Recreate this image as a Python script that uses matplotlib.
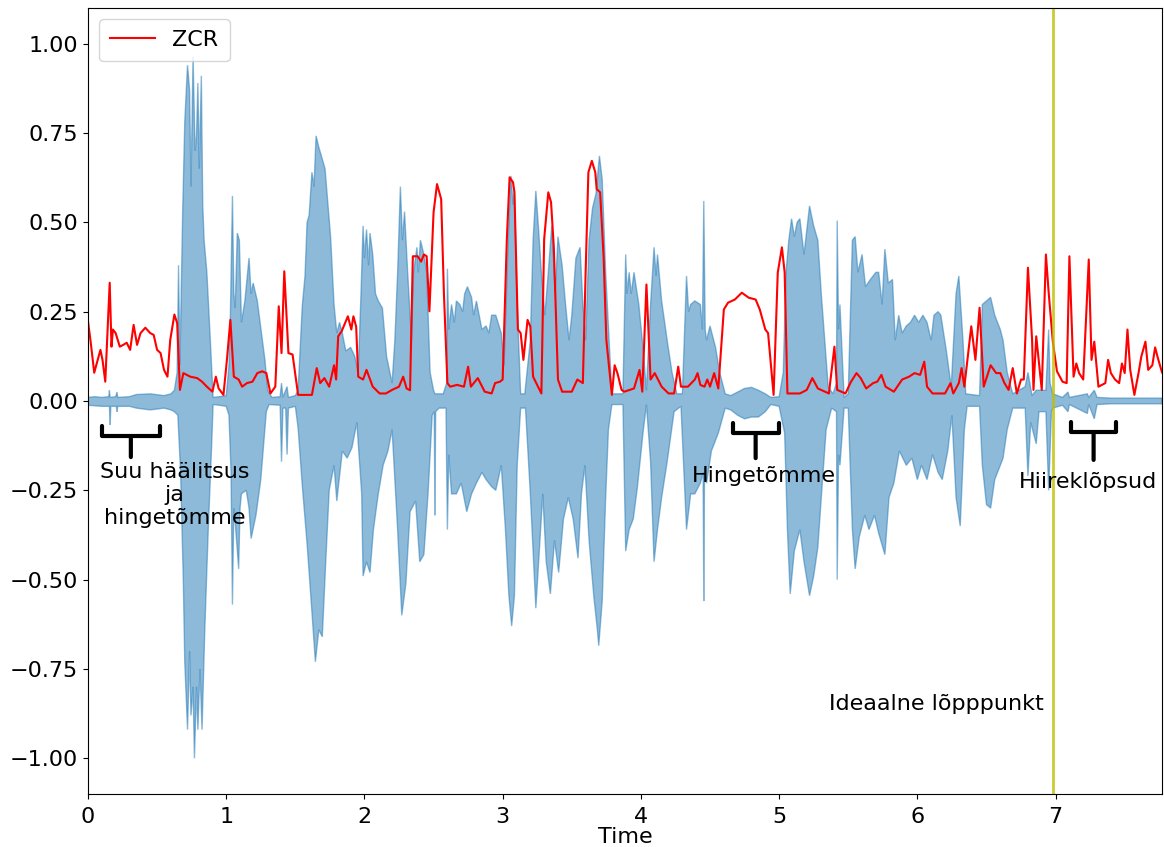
import numpy as np
import matplotlib
matplotlib.use("Agg")
import matplotlib.pyplot as plt
from matplotlib.ticker import FuncFormatter

# waveform envelope (upper), time in seconds
wave_hi_t = [0.0, 0.05, 0.1, 0.15, 0.155, 0.16, 0.2, 0.21, 0.215, 0.3, 0.35, 0.45, 0.55, 0.6,
             0.625, 0.645, 0.655, 0.665, 0.685, 0.7, 0.72, 0.735, 0.745, 0.76, 0.775, 0.785, 0.795, 0.805,
             0.82, 0.83, 0.84, 0.86, 0.885, 0.905, 0.95, 1.0,
             1.02, 1.03, 1.045, 1.055, 1.065, 1.08, 1.095, 1.11, 1.135, 1.165, 1.18, 1.195, 1.225, 1.255,
             1.28, 1.3, 1.33,
             1.39, 1.4, 1.41, 1.44, 1.45, 1.5,
             1.52, 1.55, 1.57, 1.585, 1.6, 1.62, 1.635, 1.65, 1.67, 1.695, 1.715, 1.73, 1.755, 1.78, 1.8,
             1.82, 1.84, 1.865, 1.9, 1.93, 1.955,
             1.975, 1.99, 2.0, 2.015, 2.03, 2.04, 2.06, 2.08, 2.1, 2.13, 2.16, 2.2, 2.22, 2.24, 2.26, 2.275,
             2.29, 2.31, 2.34, 2.355, 2.38, 2.39, 2.405, 2.43, 2.45, 2.475, 2.5, 2.51, 2.57,
             2.595, 2.6, 2.61, 2.63, 2.65, 2.665, 2.69, 2.71, 2.725, 2.745, 2.775, 2.79, 2.81, 2.85, 2.88,
             2.9, 2.92, 2.95, 2.99, 3.01, 3.04, 3.06, 3.075, 3.085, 3.105, 3.13, 3.16, 3.2, 3.22, 3.24,
             3.26, 3.28, 3.305, 3.33, 3.355, 3.38, 3.4, 3.43, 3.455, 3.48, 3.5, 3.53, 3.56, 3.58, 3.6,
             3.625, 3.65, 3.675, 3.7, 3.72, 3.745, 3.77, 3.79, 3.87,
             3.89, 3.9, 3.915, 3.93, 3.95, 3.985, 4.015, 4.04, 4.07, 4.095, 4.11, 4.12, 4.15, 4.19, 4.225,
             4.26, 4.3,
             4.33, 4.345, 4.36, 4.39, 4.43, 4.445, 4.455, 4.465, 4.475, 4.5, 4.54, 4.57, 4.61,
             4.65, 4.7, 4.75, 4.8, 4.85, 4.9, 4.94, 5.0,
             5.03, 5.05, 5.07, 5.09, 5.11, 5.13, 5.15, 5.18, 5.22, 5.25, 5.28, 5.305, 5.33, 5.355, 5.39,
             5.415, 5.42, 5.43, 5.44, 5.47, 5.5,
             5.53, 5.55, 5.57, 5.6, 5.625, 5.66, 5.7, 5.72, 5.745, 5.765, 5.79, 5.82, 5.84, 5.865, 5.89,
             5.92, 5.95, 5.98, 6.01, 6.04, 6.07, 6.1, 6.12, 6.15, 6.17, 6.21, 6.245, 6.28, 6.3, 6.33,
             6.35, 6.45,
             6.47, 6.5, 6.53, 6.56, 6.6, 6.62, 6.65, 6.69, 6.78, 6.8, 6.83, 6.86, 6.88, 6.93, 6.95, 6.96,
             6.98, 7.05, 7.09, 7.1, 7.23, 7.24, 7.28, 7.3, 7.4, 7.6, 7.77]
wave_hi = [0.01, 0.012, 0.01, 0.012, 0.03, 0.01, 0.012, 0.025, 0.01, 0.012, 0.018, 0.02, 0.015, 0.02,
           0.03, 0.08, 0.38, 0.1, 0.53, 0.78, 0.94, 0.87, 0.6, 0.963, 0.7, 0.74, 0.89, 0.65,
           0.91, 0.55, 0.45, 0.36, 0.17, 0.01, 0.012, 0.015,
           0.1, 0.237, 0.574, 0.3, 0.26, 0.47, 0.45, 0.22, 0.28, 0.40, 0.3, 0.33, 0.28, 0.19,
           0.115, 0.03, 0.01,
           0.012, 0.05, 0.01, 0.04, 0.01, 0.015,
           0.03, 0.265, 0.35, 0.5, 0.52, 0.64, 0.6, 0.742, 0.71, 0.677, 0.65, 0.578, 0.46, 0.27, 0.19,
           0.22, 0.19, 0.14, 0.15, 0.125, 0.08,
           0.3, 0.49, 0.4, 0.48, 0.38, 0.47, 0.41, 0.3, 0.28, 0.26, 0.125, 0.05, 0.17, 0.36, 0.6, 0.45,
           0.53, 0.38, 0.17, 0.36, 0.43, 0.36, 0.45, 0.41, 0.36, 0.08, 0.03, 0.02, 0.02,
           0.05, 0.37, 0.2, 0.27, 0.22, 0.28, 0.27, 0.25, 0.3, 0.32, 0.29, 0.24, 0.28, 0.2, 0.21,
           0.19, 0.24, 0.24, 0.19, 0.1, 0.45, 0.63, 0.55, 0.59, 0.27, 0.02, 0.02, 0.17, 0.45, 0.588,
           0.48, 0.36, 0.24, 0.36, 0.49, 0.3, 0.46, 0.38, 0.27, 0.17, 0.24, 0.4, 0.43, 0.27, 0.17,
           0.45, 0.54, 0.58, 0.686, 0.62, 0.36, 0.17, 0.02, 0.02,
           0.41, 0.3, 0.36, 0.3, 0.36, 0.27, 0.15, 0.03, 0.27, 0.43, 0.35, 0.41, 0.28, 0.17, 0.08,
           0.02, 0.02,
           0.35, 0.25, 0.27, 0.28, 0.27, 0.2, 0.56, 0.2, 0.17, 0.21, 0.15, 0.08, 0.02,
           0.015, 0.025, 0.035, 0.038, 0.03, 0.02, 0.01, 0.012,
           0.08, 0.36, 0.45, 0.51, 0.46, 0.5, 0.51, 0.41, 0.546, 0.49, 0.45, 0.3, 0.17, 0.04, 0.02,
           0.05, 0.505, 0.2, 0.27, 0.01, 0.02,
           0.45, 0.46, 0.36, 0.41, 0.32, 0.34, 0.36, 0.36, 0.27, 0.425, 0.33, 0.34, 0.17, 0.24, 0.19,
           0.21, 0.22, 0.24, 0.22, 0.24, 0.22, 0.17, 0.24, 0.25, 0.24, 0.14, 0.04, 0.3, 0.35, 0.17,
           0.02, 0.015,
           0.27, 0.28, 0.29, 0.24, 0.2, 0.17, 0.08, 0.02, 0.04, 0.08, 0.015, 0.03, 0.03, 0.03, 0.2, 0.05,
           0.02, 0.01, 0.025, 0.01, 0.02, 0.01, 0.03, 0.01, 0.008, 0.008, 0.008]

# waveform envelope (lower)
wave_lo_t = [0.0, 0.1, 0.155, 0.16, 0.165, 0.205, 0.21, 0.215, 0.3, 0.35, 0.45, 0.55, 0.6,
             0.625, 0.65, 0.67, 0.69, 0.7, 0.72, 0.735, 0.745, 0.76, 0.77, 0.785, 0.795, 0.81, 0.825,
             0.845, 0.87, 0.895, 0.905, 0.95, 1.0,
             1.02, 1.035, 1.045, 1.055, 1.065, 1.09, 1.1, 1.11, 1.145, 1.165, 1.18, 1.215, 1.25, 1.29, 1.31,
             1.39, 1.4, 1.41, 1.43, 1.44, 1.45, 1.5,
             1.52, 1.55, 1.585, 1.62, 1.645, 1.67, 1.695, 1.72, 1.745, 1.78, 1.8, 1.84, 1.875, 1.91, 1.945,
             1.98, 1.99, 2.015, 2.04, 2.065, 2.1, 2.135, 2.17, 2.2, 2.24, 2.27, 2.3, 2.33, 2.37, 2.4, 2.43,
             2.46, 2.49, 2.505, 2.51, 2.515, 2.54, 2.59,
             2.6, 2.61, 2.63, 2.665, 2.7, 2.74, 2.775, 2.81, 2.85, 2.88, 2.92, 2.95, 2.99, 3.02, 3.045,
             3.065, 3.085, 3.105, 3.13, 3.165, 3.2, 3.23, 3.24, 3.265, 3.29, 3.315, 3.345, 3.375, 3.405,
             3.44, 3.475, 3.51, 3.545, 3.57, 3.595, 3.625, 3.66, 3.685, 3.695, 3.72, 3.745, 3.765, 3.79, 3.87,
             3.89, 3.915, 3.945, 3.975, 4.015, 4.04, 4.07, 4.095, 4.12, 4.15, 4.19, 4.24, 4.29,
             4.33, 4.36, 4.39, 4.43, 4.45, 4.455, 4.46, 4.475, 4.51, 4.56, 4.61,
             4.65, 4.7, 4.75, 4.8, 4.85, 4.9, 4.94, 5.0,
             5.04, 5.06, 5.08, 5.11, 5.15, 5.18, 5.22, 5.25, 5.28, 5.305, 5.34, 5.38, 5.415, 5.42, 5.43,
             5.44, 5.47, 5.5,
             5.53, 5.55, 5.58, 5.62, 5.65, 5.69, 5.72, 5.765, 5.795, 5.83, 5.87, 5.92, 5.96, 6.0, 6.03,
             6.07, 6.11, 6.15, 6.18, 6.22, 6.25, 6.28, 6.31, 6.34, 6.36, 6.45,
             6.47, 6.5, 6.53, 6.56, 6.6, 6.62, 6.65, 6.69, 6.78, 6.8, 6.82, 6.86, 6.88, 6.93, 6.95, 6.97,
             6.98, 7.05, 7.09, 7.1, 7.23, 7.24, 7.28, 7.3, 7.4, 7.6, 7.77]
wave_lo = [-0.012, -0.015, -0.015, -0.067, -0.015, -0.015, -0.03, -0.015, -0.015, -0.02, -0.025, -0.02, -0.025,
           -0.03, -0.04, -0.2, -0.51, -0.73, -0.92, -0.7, -0.88, -0.8, -1.0, -0.8, -0.92, -0.75, -0.92,
           -0.64, -0.36, -0.12, -0.01, -0.012, -0.015,
           -0.04, -0.2, -0.57, -0.3, -0.34, -0.47, -0.3, -0.26, -0.25, -0.3, -0.385, -0.32, -0.22, -0.03, -0.01,
           -0.012, -0.17, -0.02, -0.02, -0.15, -0.02, -0.015,
           -0.075, -0.235, -0.4, -0.59, -0.73, -0.64, -0.66, -0.45, -0.25, -0.18, -0.28, -0.14, -0.16, -0.13, -0.06,
           -0.26, -0.49, -0.45, -0.48, -0.36, -0.26, -0.18, -0.14, -0.08, -0.36, -0.6, -0.51, -0.31, -0.28, -0.45, -0.43,
           -0.26, -0.04, -0.03, -0.32, -0.03, -0.02, -0.02,
           -0.36, -0.15, -0.26, -0.26, -0.23, -0.31, -0.26, -0.23, -0.2, -0.22, -0.24, -0.25, -0.18, -0.36, -0.545,
           -0.63, -0.545, -0.18, -0.02, -0.02, -0.26, -0.5, -0.58, -0.42, -0.26, -0.45, -0.54, -0.39, -0.48,
           -0.33, -0.27, -0.33, -0.44, -0.26, -0.18, -0.39, -0.55, -0.64, -0.685, -0.56, -0.27, -0.08, -0.01, -0.01,
           -0.42, -0.36, -0.33, -0.24, -0.09, -0.01, -0.17, -0.45, -0.36, -0.27, -0.17, -0.03, -0.015,
           -0.36, -0.26, -0.26, -0.23, -0.2, -0.56, -0.2, -0.23, -0.14, -0.09, -0.02,
           -0.025, -0.04, -0.05, -0.045, -0.045, -0.03, -0.01, -0.015,
           -0.09, -0.36, -0.54, -0.42, -0.36, -0.45, -0.545, -0.49, -0.41, -0.27, -0.08, -0.02, -0.03, -0.5, -0.15,
           -0.18, -0.02, -0.02,
           -0.36, -0.47, -0.38, -0.32, -0.36, -0.32, -0.37, -0.43, -0.27, -0.23, -0.14, -0.18, -0.16, -0.22, -0.18,
           -0.22, -0.15, -0.2, -0.22, -0.14, -0.04, -0.27, -0.35, -0.08, -0.015, -0.015,
           -0.18, -0.29, -0.3, -0.22, -0.18, -0.16, -0.08, -0.02, -0.02, -0.21, -0.06, -0.12, -0.03, -0.03, -0.25, -0.03,
           -0.02, -0.012, -0.03, -0.01, -0.035, -0.01, -0.05, -0.01, -0.008, -0.008, -0.008]

# zero crossing rate
zcr_t = [0.0, 0.02, 0.045, 0.07, 0.09, 0.105, 0.125, 0.157, 0.17, 0.18, 0.2, 0.23, 0.255, 0.28, 0.305,
         0.33, 0.355, 0.38, 0.415, 0.45, 0.475, 0.5, 0.525, 0.55, 0.575, 0.595, 0.625, 0.645, 0.665,
         0.69, 0.74, 0.79, 0.825, 0.86, 0.9, 0.925, 0.945, 0.98, 1.005, 1.03, 1.055, 1.09, 1.115, 1.15,
         1.19, 1.225, 1.26, 1.29, 1.32, 1.355, 1.38, 1.4, 1.42, 1.45, 1.48, 1.52, 1.62, 1.655, 1.68,
         1.71, 1.745, 1.78, 1.795, 1.81, 1.835, 1.88, 1.905, 1.92, 1.94, 1.955, 1.99, 2.015, 2.06, 2.11,
         2.155, 2.2, 2.25, 2.28, 2.305, 2.33, 2.35, 2.385, 2.41, 2.43, 2.45, 2.47, 2.5, 2.525, 2.555,
         2.575, 2.6, 2.62, 2.67, 2.72, 2.75, 2.77, 2.82, 2.87, 2.92, 2.945, 2.98, 3.0, 3.03, 3.05,
         3.075, 3.085, 3.11, 3.13, 3.15, 3.18, 3.2, 3.22, 3.28, 3.3, 3.33, 3.35, 3.37, 3.4, 3.43,
         3.5, 3.54, 3.58, 3.6, 3.62, 3.645, 3.67, 3.68, 3.705, 3.73, 3.75, 3.79, 3.81, 3.83, 3.86,
         3.88, 3.95, 3.99, 4.01, 4.04, 4.07, 4.1, 4.15, 4.2, 4.24, 4.27, 4.29, 4.34, 4.39, 4.41,
         4.43, 4.46, 4.48, 4.5, 4.53, 4.56, 4.6, 4.63, 4.68, 4.73, 4.78, 4.83, 4.86, 4.9, 4.92,
         4.96, 4.99, 5.02, 5.04, 5.06, 5.11, 5.15, 5.2, 5.24, 5.28, 5.36, 5.4, 5.42, 5.48, 5.52,
         5.56, 5.59, 5.63, 5.68, 5.71, 5.74, 5.77, 5.83, 5.89, 5.94, 5.98, 6.02, 6.05, 6.07, 6.11,
         6.2, 6.24, 6.26, 6.3, 6.32, 6.34, 6.37, 6.39, 6.42, 6.45, 6.48, 6.53, 6.57, 6.6, 6.63,
         6.66, 6.69, 6.72, 6.75, 6.77, 6.8, 6.83, 6.84, 6.86, 6.9, 6.93, 6.95, 6.98, 7.01, 7.05,
         7.08, 7.1, 7.13, 7.15, 7.17, 7.2, 7.24, 7.26, 7.28, 7.31, 7.36, 7.38, 7.4, 7.43, 7.46,
         7.48, 7.5, 7.52, 7.54, 7.57, 7.6, 7.62, 7.65, 7.67, 7.7, 7.72, 7.74, 7.77]
zcr = [0.223, 0.163, 0.079, 0.115, 0.143, 0.115, 0.054, 0.331, 0.152, 0.2, 0.19, 0.152, 0.157, 0.163, 0.143,
       0.213, 0.157, 0.19, 0.205, 0.19, 0.185, 0.143, 0.134, 0.087, 0.068, 0.171, 0.242, 0.218, 0.031,
       0.078, 0.068, 0.064, 0.054, 0.04, 0.026, 0.068, 0.035, 0.017, 0.115, 0.227, 0.068, 0.06, 0.04, 0.05,
       0.054, 0.078, 0.083, 0.078, 0.021, 0.04, 0.265, 0.134, 0.363, 0.134, 0.13, 0.017, 0.017, 0.092, 0.05,
       0.064, 0.04, 0.1, 0.06, 0.181, 0.195, 0.237, 0.2, 0.237, 0.208, 0.068, 0.06, 0.087, 0.04, 0.021,
       0.021, 0.031, 0.04, 0.068, 0.035, 0.03, 0.405, 0.405, 0.39, 0.41, 0.405, 0.251, 0.528, 0.607, 0.565,
       0.3, 0.05, 0.04, 0.045, 0.04, 0.096, 0.04, 0.064, 0.026, 0.021, 0.05, 0.054, 0.06, 0.452, 0.626,
       0.612, 0.584, 0.2, 0.19, 0.115, 0.227, 0.208, 0.068, 0.021, 0.452, 0.584, 0.556, 0.43, 0.06, 0.026,
       0.026, 0.06, 0.05, 0.359, 0.64, 0.672, 0.64, 0.593, 0.584, 0.405, 0.171, 0.017, 0.1, 0.078, 0.031,
       0.026, 0.035, 0.087, 0.026, 0.326, 0.06, 0.078, 0.04, 0.021, 0.021, 0.096, 0.04, 0.04, 0.06, 0.078,
       0.045, 0.04, 0.06, 0.04, 0.078, 0.035, 0.256, 0.275, 0.284, 0.303, 0.289, 0.284, 0.256, 0.2, 0.19,
       0.017, 0.359, 0.43, 0.36, 0.021, 0.021, 0.021, 0.031, 0.064, 0.035, 0.021, 0.152, 0.031, 0.021, 0.054,
       0.078, 0.064, 0.035, 0.05, 0.054, 0.073, 0.04, 0.026, 0.06, 0.068, 0.078, 0.073, 0.11, 0.04, 0.021,
       0.021, 0.05, 0.021, 0.05, 0.092, 0.04, 0.143, 0.209, 0.115, 0.261, 0.04, 0.1, 0.078, 0.078, 0.05,
       0.031, 0.092, 0.021, 0.06, 0.06, 0.373, 0.171, 0.031, 0.181, 0.031, 0.41, 0.303, 0.166, 0.083, 0.054,
       0.05, 0.405, 0.068, 0.105, 0.078, 0.06, 0.396, 0.115, 0.166, 0.04, 0.05, 0.115, 0.078, 0.06, 0.05,
       0.105, 0.078, 0.2, 0.087, 0.017, 0.078, 0.124, 0.166, 0.087, 0.1, 0.15, 0.12, 0.08]

endpoint = 6.98
duration = 7.77

fig = plt.figure(figsize=(11.64, 8.47), dpi=100)
ax = fig.add_axes([0.0756, 0.0626, 0.9227, 0.928])

# waveform as a filled envelope
poly_t = np.concatenate([wave_hi_t, wave_lo_t[::-1]])
poly_v = np.concatenate([wave_hi, wave_lo[::-1]])
ax.fill(poly_t, poly_v, color="C0", alpha=0.5, lw=1)

ax.plot(zcr_t, zcr, color="r", lw=1.5, label="ZCR")
ax.axvline(endpoint, color="y", lw=2, alpha=0.8)

# bracket markers
brackets = [(0.31, -0.098, -0.157, 2.1), (4.83, -0.09, -0.16, 1.65), (7.275, -0.087, -0.165, 1.6)]
for bx, top, bottom, w in brackets:
    ax.annotate("", xy=(bx, top), xytext=(bx, bottom),
                arrowprops=dict(arrowstyle="-[, widthB=%s, lengthB=0.7" % w, lw=3, color="k",
                                shrinkA=0, shrinkB=0, mutation_scale=10))

ax.text(0.625, -0.171, "Suu häälitsus\nja\nhingetõmme", ha="center", va="top", fontsize=16)
ax.text(4.888, -0.183, "Hingetõmme", ha="center", va="top", fontsize=16)
ax.text(7.234, -0.2, "Hiireklõpsud", ha="center", va="top", fontsize=16)
ax.text(6.14, -0.82, "Ideaalne lõpppunkt", ha="center", va="top", fontsize=16)

ax.set_xlim(0, duration)
ax.set_ylim(-1.1, 1.1)
ax.set_xticks(range(8))
ax.set_yticks(np.arange(-1.0, 1.01, 0.25))
ax.yaxis.set_major_formatter(FuncFormatter(lambda v, p: f"{v:.2f}".replace("-", "\u2212")))
ax.tick_params(labelsize=16)
ax.tick_params(axis="x", pad=6)
ax.set_xlabel("Time", fontsize=16, labelpad=0)
ax.legend(loc="upper left", fontsize=16, borderpad=0.5)

fig.savefig("out.png", dpi=100)
